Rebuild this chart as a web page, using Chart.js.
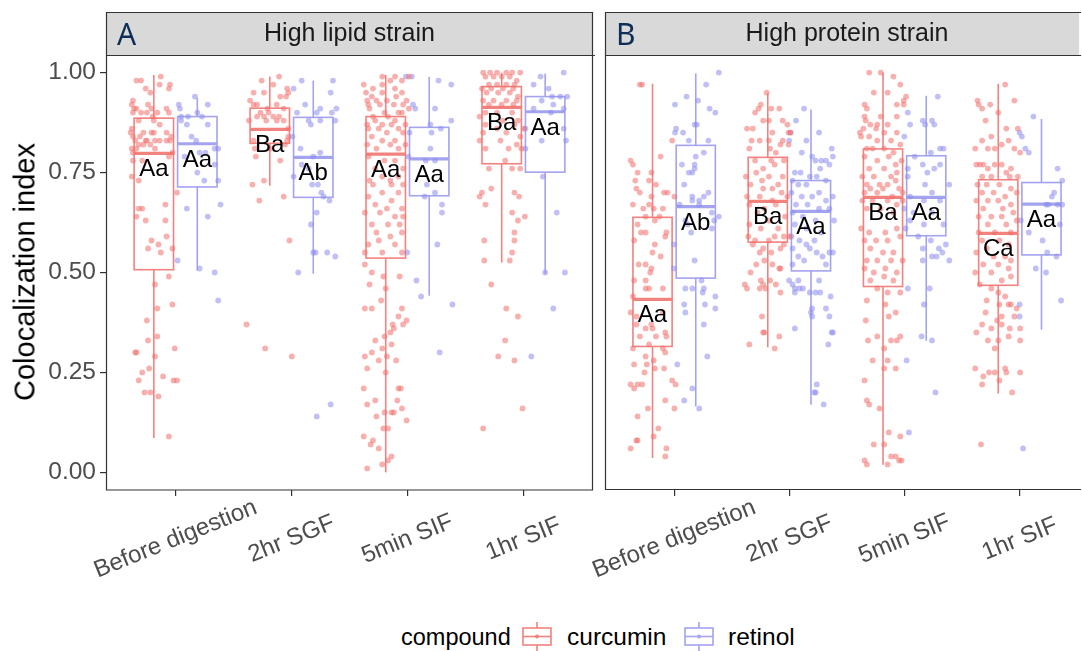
<!DOCTYPE html>
<html>
<head>
<meta charset="utf-8">
<script src="https://cdn.jsdelivr.net/npm/chart.js@4.4.1/dist/chart.umd.min.js"></script>
<style>
  body { margin:0; background:#fff; width:1082px; height:651px; overflow:hidden; position:relative; font-family:"Liberation Sans", Arial, sans-serif; }
  #wrapA { position:absolute; left:0; top:0; width:600px; height:600px; }
  #wrapB { position:absolute; left:520px; top:0; width:562px; height:600px; }
  #ytitle { position:absolute; left:25px; top:272px; transform:translate(-50%,-50%) rotate(-90deg); font-size:29px; white-space:nowrap; color:#000; }
  .leg { position:absolute; top:622px; height:30px; line-height:30px; font-size:24.5px; color:#000; white-space:nowrap; }
  .leg svg { display:block; }
</style>
</head>
<body>
<div id="wrapA"><canvas id="chartA" width="600" height="600"></canvas></div>
<div id="wrapB"><canvas id="chartB" width="562" height="600"></canvas></div>
<div id="ytitle">Colocalization index</div>

<div class="leg" style="left:401px; font-size:23.5px">compound</div>
<div class="leg" style="left:522px"><svg width="30" height="30" viewBox="0 0 30 30">
  <line x1="15" y1="0" x2="15" y2="6" stroke="#F2827E" stroke-width="1.6"/>
  <rect x="1" y="6" width="28" height="17" fill="#fff" stroke="#F2827E" stroke-width="1.6"/>
  <line x1="1" y1="14.5" x2="29" y2="14.5" stroke="#F2827E" stroke-width="1.6"/>
  <circle cx="15" cy="14.5" r="2" fill="#F2827E"/>
  <line x1="15" y1="23" x2="15" y2="30" stroke="#F2827E" stroke-width="1.6"/>
</svg></div>
<div class="leg" style="left:567px">curcumin</div>
<div class="leg" style="left:684px"><svg width="30" height="30" viewBox="0 0 30 30">
  <line x1="15" y1="0" x2="15" y2="6" stroke="#A3A3F0" stroke-width="1.6"/>
  <rect x="1" y="6" width="28" height="17" fill="#fff" stroke="#A3A3F0" stroke-width="1.6"/>
  <line x1="1" y1="14.5" x2="29" y2="14.5" stroke="#A3A3F0" stroke-width="1.6"/>
  <circle cx="15" cy="14.5" r="2" fill="#A3A3F0"/>
  <line x1="15" y1="23" x2="15" y2="30" stroke="#A3A3F0" stroke-width="1.6"/>
</svg></div>
<div class="leg" style="left:728px">retinol</div>

<script>
// categories and ticks
var categories = ["Before digestion", "2hr SGF", "5min SIF", "1hr SIF"];
var compounds = ["curcumin", "retinol"];
var yTicks = [0, 0.25, 0.5, 0.75, 1];
var yTickLabels = ["0.00", "0.25", "0.50", "0.75", "1.00"];

// box stats per category: [lower whisker, Q1, median, Q3, upper whisker]
var lipidCurcuminBox = [[0.086,0.507,0.798,0.886,0.994],[0.717,0.823,0.858,0.911,0.990],[0.000,0.536,0.796,0.890,0.994],[0.525,0.772,0.913,0.965,1.000]];
var lipidRetinolBox = [[0.505,0.714,0.822,0.890,0.936],[0.497,0.688,0.788,0.888,0.980],[0.442,0.692,0.784,0.863,0.989],[0.497,0.751,0.902,0.940,0.998]];
var proteinCurcuminBox = [[0.036,0.315,0.433,0.638,0.972],[0.313,0.576,0.678,0.788,0.948],[0.019,0.465,0.688,0.809,1.000],[0.197,0.468,0.598,0.732,0.972]];
var proteinRetinolBox = [[0.165,0.486,0.665,0.818,0.998],[0.169,0.504,0.653,0.730,0.908],[0.329,0.592,0.688,0.792,0.942],[0.357,0.544,0.671,0.725,0.884]];

// significance letters
var lipidCurcuminLetters = ["Aa", "Ba", "Aa", "Ba"];
var lipidRetinolLetters = ["Aa", "Ab", "Aa", "Aa"];
var proteinCurcuminLetters = ["Aa", "Ba", "Ba", "Ca"];
var proteinRetinolLetters = ["Ab", "Aa", "Aa", "Aa"];

// jittered cells: [jitter, colocalization index], one list per category
var lipidCurcuminPts = [
 [[0.06,0.99],[-0.15,0.98],[-0.11,0.98],[0.05,0.97],[0.14,0.97],[0.13,0.96],[-0.07,0.96],[-0.03,0.95],[-0.18,0.93],[-0.19,0.92],[-0.05,0.92],[-0.15,0.91],[-0.02,0.91],[-0.17,0.91],[-0.18,0.90],[-0.06,0.90],[-0.11,0.90],[0.03,0.90],[0.11,0.91],[0.13,0.90],[-0.01,0.89],[0.00,0.88],[-0.13,0.88],[0.05,0.87],[-0.19,0.86],[-0.09,0.85],[-0.02,0.85],[0.00,0.85],[0.11,0.85],[-0.20,0.85],[-0.18,0.84],[-0.12,0.84],[0.15,0.84],[-0.07,0.83],[0.14,0.83],[0.05,0.83],[-0.16,0.83],[-0.06,0.83],[0.01,0.83],[0.11,0.83],[-0.13,0.82],[-0.09,0.82],[-0.03,0.82],[-0.19,0.81],[-0.15,0.81],[0.01,0.81],[-0.18,0.80],[0.16,0.80],[0.13,0.79],[-0.18,0.78],[-0.10,0.78],[-0.19,0.74],[-0.13,0.73],[0.20,0.70],[0.10,0.67],[-0.13,0.66],[-0.10,0.66],[-0.15,0.64],[-0.07,0.63],[0.10,0.63],[-0.02,0.58],[0.11,0.59],[0.04,0.57],[-0.05,0.56],[0.06,0.55],[0.16,0.56],[0.13,0.49],[0.01,0.47],[0.16,0.42],[0.03,0.41],[-0.06,0.38],[-0.05,0.33],[0.03,0.34],[-0.15,0.30],[-0.16,0.30],[0.18,0.31],[0.01,0.29],[-0.04,0.26],[-0.10,0.25],[-0.13,0.23],[0.08,0.24],[0.17,0.23],[0.20,0.23],[-0.08,0.20],[-0.03,0.20],[0.04,0.19],[0.13,0.09]],
 [[0.08,0.99],[-0.07,0.98],[0.03,0.97],[0.15,0.96],[0.16,0.95],[-0.14,0.95],[-0.05,0.95],[0.09,0.94],[0.14,0.94],[-0.17,0.93],[-0.14,0.92],[-0.11,0.92],[0.06,0.92],[-0.02,0.91],[0.12,0.91],[-0.18,0.88],[-0.08,0.90],[-0.05,0.89],[-0.01,0.90],[0.03,0.89],[0.08,0.89],[-0.11,0.89],[-0.03,0.88],[0.06,0.88],[0.12,0.88],[0.16,0.86],[0.16,0.84],[0.15,0.83],[-0.14,0.83],[0.13,0.82],[-0.13,0.81],[0.00,0.81],[-0.12,0.79],[0.09,0.78],[-0.05,0.73],[-0.15,0.72],[-0.09,0.68],[0.12,0.69],[0.17,0.58],[-0.20,0.37],[-0.04,0.31],[0.19,0.29]],
 [[-0.03,0.99],[-0.19,0.97],[-0.03,0.97],[0.08,0.99],[0.14,0.98],[0.20,0.99],[0.04,0.98],[-0.17,0.95],[-0.11,0.96],[0.08,0.96],[0.14,0.95],[-0.03,0.95],[-0.12,0.94],[-0.16,0.93],[-0.08,0.93],[0.01,0.93],[0.09,0.94],[0.18,0.93],[-0.15,0.92],[-0.05,0.92],[0.07,0.92],[0.15,0.92],[0.20,0.91],[-0.14,0.91],[-0.01,0.90],[0.11,0.90],[-0.11,0.89],[0.02,0.89],[0.14,0.90],[-0.09,0.88],[0.08,0.88],[-0.16,0.87],[-0.03,0.87],[0.05,0.87],[0.17,0.87],[-0.15,0.86],[-0.06,0.86],[0.11,0.86],[0.01,0.85],[-0.12,0.84],[0.15,0.85],[-0.03,0.83],[0.08,0.83],[-0.16,0.82],[0.04,0.82],[0.17,0.82],[-0.08,0.81],[0.11,0.81],[-0.15,0.79],[-0.01,0.78],[0.08,0.78],[-0.09,0.76],[0.15,0.76],[-0.14,0.73],[-0.03,0.74],[0.04,0.73],[0.11,0.74],[-0.11,0.72],[0.05,0.72],[0.15,0.72],[-0.03,0.70],[-0.15,0.69],[0.11,0.70],[0.05,0.68],[-0.09,0.67],[0.01,0.66],[0.14,0.66],[-0.18,0.65],[-0.05,0.65],[0.08,0.64],[0.15,0.64],[-0.12,0.62],[0.02,0.62],[0.12,0.62],[-0.08,0.60],[0.04,0.59],[0.14,0.60],[-0.06,0.58],[-0.15,0.57],[0.08,0.57],[-0.18,0.55],[-0.03,0.55],[0.14,0.55],[-0.18,0.52],[-0.12,0.50],[-0.02,0.49],[0.12,0.49],[-0.14,0.47],[0.00,0.46],[-0.04,0.43],[-0.18,0.41],[-0.12,0.41],[0.14,0.41],[0.11,0.39],[0.06,0.37],[0.07,0.36],[0.15,0.37],[0.18,0.38],[0.04,0.35],[-0.01,0.34],[-0.09,0.33],[0.05,0.32],[-0.03,0.31],[-0.12,0.30],[-0.18,0.29],[-0.06,0.28],[0.01,0.29],[0.09,0.28],[-0.16,0.26],[0.00,0.25],[-0.19,0.21],[0.11,0.21],[0.13,0.21],[-0.09,0.18],[-0.16,0.17],[0.10,0.18],[-0.01,0.15],[0.05,0.15],[0.07,0.15],[0.14,0.16],[-0.08,0.14],[0.18,0.13],[0.02,0.11],[-0.02,0.11],[-0.19,0.09],[-0.11,0.08],[-0.13,0.07],[-0.06,0.06],[0.05,0.04],[0.02,0.03],[-0.03,0.02],[-0.16,0.01]],
 [[-0.16,1.00],[-0.10,1.00],[-0.04,1.00],[0.04,1.00],[0.09,1.00],[0.16,1.00],[-0.14,0.99],[-0.07,0.99],[0.00,0.99],[0.07,0.99],[0.13,0.98],[-0.11,0.97],[-0.04,0.97],[0.04,0.97],[0.11,0.97],[-0.17,0.96],[-0.09,0.96],[0.01,0.96],[0.10,0.96],[-0.13,0.95],[-0.03,0.95],[0.07,0.95],[0.14,0.94],[-0.16,0.93],[-0.07,0.93],[0.04,0.93],[0.13,0.93],[-0.11,0.92],[0.00,0.92],[0.10,0.92],[-0.14,0.90],[-0.04,0.90],[0.09,0.90],[-0.19,0.89],[0.01,0.88],[0.14,0.88],[0.19,0.86],[-0.14,0.87],[-0.04,0.86],[0.11,0.87],[-0.16,0.85],[0.04,0.85],[0.16,0.84],[-0.19,0.83],[-0.01,0.83],[0.13,0.82],[-0.14,0.81],[0.06,0.81],[0.17,0.81],[0.03,0.78],[-0.11,0.76],[0.09,0.76],[0.16,0.76],[-0.09,0.71],[-0.17,0.70],[-0.19,0.69],[-0.14,0.67],[0.11,0.70],[0.15,0.69],[0.09,0.65],[0.20,0.64],[0.14,0.63],[0.11,0.60],[-0.15,0.58],[0.11,0.58],[0.09,0.55],[-0.15,0.53],[0.07,0.53],[-0.09,0.47],[0.04,0.41],[0.14,0.39],[0.03,0.33],[-0.03,0.29],[0.11,0.28],[0.18,0.16],[-0.16,0.11]]
];
var lipidRetinolPts = [
 [[-0.02,0.94],[-0.16,0.92],[-0.15,0.91],[0.09,0.92],[0.00,0.90],[-0.14,0.89],[-0.08,0.89],[0.04,0.89],[-0.14,0.88],[-0.09,0.87],[0.09,0.87],[-0.05,0.84],[-0.01,0.83],[0.02,0.80],[0.15,0.81],[0.18,0.81],[-0.11,0.79],[0.07,0.80],[0.15,0.77],[0.00,0.75],[0.18,0.73],[0.06,0.73],[-0.09,0.66],[0.09,0.64],[0.20,0.67],[-0.17,0.53],[0.02,0.51],[0.15,0.50],[0.18,0.43]],
 [[-0.10,0.98],[0.17,0.98],[-0.17,0.96],[0.15,0.95],[-0.07,0.92],[0.06,0.91],[-0.14,0.90],[0.03,0.90],[0.16,0.90],[0.20,0.91],[-0.04,0.88],[-0.02,0.87],[0.06,0.88],[0.19,0.88],[-0.18,0.84],[-0.11,0.81],[0.00,0.79],[0.06,0.80],[-0.10,0.77],[-0.04,0.76],[-0.17,0.74],[-0.01,0.72],[0.04,0.72],[0.07,0.70],[0.09,0.69],[0.14,0.68],[0.03,0.65],[-0.02,0.62],[0.00,0.55],[0.02,0.55],[0.12,0.55],[0.19,0.54],[-0.13,0.50],[0.03,0.14],[0.15,0.17]],
 [[-0.20,0.99],[-0.15,0.99],[0.08,0.98],[0.19,0.97],[-0.14,0.92],[-0.12,0.91],[0.05,0.91],[0.01,0.87],[0.19,0.88],[-0.17,0.85],[0.02,0.85],[0.10,0.86],[0.01,0.81],[-0.18,0.79],[-0.03,0.78],[0.05,0.78],[-0.02,0.72],[-0.04,0.69],[0.05,0.70],[0.11,0.67],[0.11,0.65],[0.07,0.57],[-0.19,0.55],[-0.11,0.48],[-0.07,0.44],[0.20,0.42],[0.09,0.30]],
 [[-0.04,0.99],[0.16,1.00],[-0.10,0.97],[0.03,0.96],[0.06,0.94],[0.13,0.94],[0.19,0.94],[-0.03,0.93],[0.07,0.92],[-0.10,0.91],[0.16,0.91],[0.05,0.90],[-0.17,0.86],[0.16,0.86],[0.18,0.83],[-0.17,0.81],[-0.03,0.83],[-0.02,0.74],[0.10,0.65],[0.00,0.50],[0.17,0.50],[0.07,0.41],[-0.12,0.29]]
];
var proteinCurcuminPts = [
 [[-0.09,0.97],[-0.11,0.97],[0.07,0.79],[-0.19,0.78],[-0.17,0.77],[-0.13,0.75],[-0.03,0.73],[-0.01,0.75],[0.17,0.83],[-0.15,0.73],[0.03,0.72],[-0.14,0.71],[-0.11,0.70],[0.10,0.70],[0.13,0.70],[-0.01,0.69],[0.19,0.69],[-0.17,0.67],[-0.08,0.66],[-0.03,0.67],[0.01,0.66],[0.09,0.66],[-0.06,0.64],[0.06,0.64],[-0.13,0.62],[0.02,0.63],[0.12,0.60],[-0.10,0.60],[-0.06,0.60],[0.11,0.59],[-0.16,0.58],[0.02,0.57],[0.00,0.55],[0.07,0.54],[-0.12,0.52],[-0.06,0.52],[-0.01,0.51],[-0.02,0.50],[-0.16,0.48],[-0.06,0.48],[-0.06,0.46],[-0.03,0.46],[0.09,0.46],[-0.17,0.44],[-0.19,0.40],[-0.14,0.39],[0.09,0.40],[-0.14,0.37],[-0.01,0.37],[-0.06,0.36],[0.00,0.36],[0.11,0.35],[-0.11,0.34],[0.03,0.34],[0.12,0.34],[-0.03,0.32],[-0.17,0.31],[0.09,0.31],[0.11,0.30],[-0.06,0.29],[0.01,0.28],[-0.16,0.27],[-0.05,0.27],[0.10,0.26],[-0.07,0.25],[0.02,0.26],[-0.19,0.22],[-0.13,0.22],[0.17,0.23],[-0.09,0.22],[-0.16,0.21],[0.20,0.22],[0.11,0.18],[-0.04,0.16],[-0.13,0.14],[0.19,0.16],[0.05,0.11],[0.01,0.09],[-0.13,0.08],[-0.14,0.08],[-0.19,0.06],[0.12,0.06],[0.11,0.04]],
 [[-0.01,0.95],[-0.08,0.91],[-0.06,0.92],[0.03,0.91],[0.10,0.91],[-0.11,0.90],[0.13,0.88],[0.17,0.87],[-0.04,0.88],[0.01,0.88],[-0.18,0.86],[-0.13,0.86],[0.04,0.85],[0.20,0.85],[0.18,0.85],[-0.14,0.83],[-0.07,0.83],[0.01,0.83],[0.13,0.83],[0.11,0.82],[-0.16,0.81],[0.02,0.81],[0.18,0.82],[0.07,0.80],[-0.11,0.78],[0.03,0.78],[0.14,0.78],[-0.04,0.76],[0.06,0.77],[-0.10,0.75],[0.13,0.74],[-0.19,0.74],[0.01,0.74],[-0.05,0.73],[-0.15,0.72],[0.09,0.72],[-0.04,0.71],[0.04,0.71],[0.12,0.70],[-0.18,0.69],[-0.07,0.69],[0.04,0.68],[0.17,0.69],[-0.16,0.67],[0.07,0.67],[-0.03,0.66],[-0.09,0.65],[0.15,0.64],[0.01,0.63],[-0.16,0.62],[0.09,0.61],[-0.06,0.61],[0.06,0.59],[0.14,0.59],[-0.17,0.59],[0.19,0.59],[-0.11,0.58],[0.01,0.58],[-0.13,0.57],[-0.04,0.56],[0.14,0.57],[-0.07,0.55],[0.03,0.55],[0.11,0.56],[-0.10,0.52],[-0.03,0.53],[0.04,0.52],[0.10,0.51],[0.11,0.51],[-0.15,0.50],[-0.06,0.48],[0.02,0.48],[-0.04,0.47],[-0.20,0.47],[-0.18,0.46],[-0.07,0.46],[-0.02,0.46],[0.07,0.47],[0.11,0.45],[-0.05,0.39],[-0.04,0.35],[-0.03,0.35],[0.10,0.34],[-0.16,0.32],[0.06,0.31]],
 [[-0.12,1.00],[-0.02,1.00],[0.09,0.99],[0.15,0.97],[-0.08,0.95],[0.04,0.95],[0.20,0.94],[0.18,0.93],[-0.16,0.92],[-0.14,0.91],[0.12,0.92],[0.18,0.92],[-0.16,0.89],[-0.15,0.88],[-0.02,0.89],[0.12,0.89],[-0.05,0.87],[-0.11,0.87],[0.04,0.87],[-0.17,0.86],[-0.06,0.86],[-0.20,0.85],[-0.19,0.84],[-0.12,0.84],[0.01,0.85],[0.12,0.85],[-0.05,0.83],[0.07,0.83],[0.15,0.82],[-0.14,0.81],[-0.09,0.81],[0.01,0.81],[0.09,0.80],[-0.16,0.79],[-0.05,0.78],[0.05,0.79],[0.16,0.78],[0.11,0.77],[-0.12,0.76],[0.01,0.76],[0.12,0.75],[-0.18,0.74],[-0.08,0.74],[0.07,0.74],[-0.14,0.72],[-0.03,0.72],[0.04,0.72],[0.11,0.73],[-0.11,0.71],[0.00,0.71],[0.14,0.71],[-0.16,0.70],[-0.05,0.70],[0.08,0.69],[0.17,0.70],[-0.18,0.68],[-0.09,0.68],[0.04,0.68],[0.12,0.67],[0.17,0.68],[-0.14,0.66],[-0.02,0.66],[0.09,0.65],[-0.19,0.61],[-0.12,0.60],[0.02,0.60],[0.12,0.61],[-0.16,0.58],[-0.06,0.58],[0.04,0.58],[0.15,0.59],[-0.11,0.56],[0.00,0.55],[0.09,0.55],[-0.14,0.53],[-0.05,0.53],[0.07,0.53],[0.17,0.53],[-0.16,0.51],[0.02,0.51],[-0.08,0.50],[0.12,0.50],[0.01,0.49],[-0.11,0.48],[0.09,0.48],[-0.05,0.46],[0.04,0.45],[0.15,0.45],[-0.14,0.43],[0.02,0.42],[0.11,0.40],[0.05,0.39],[-0.15,0.38],[-0.05,0.34],[-0.13,0.33],[0.12,0.33],[0.15,0.34],[0.07,0.33],[0.01,0.31],[-0.09,0.28],[0.04,0.28],[0.01,0.26],[0.11,0.26],[-0.16,0.23],[-0.14,0.18],[-0.12,0.17],[-0.03,0.16],[0.05,0.10],[0.15,0.09],[-0.08,0.07],[0.01,0.07],[0.07,0.04],[0.11,0.04],[0.16,0.03],[0.14,0.03],[-0.16,0.03],[-0.14,0.02],[0.04,0.02]],
 [[0.06,0.97],[-0.18,0.93],[-0.17,0.92],[-0.14,0.91],[-0.07,0.92],[0.14,0.93],[0.00,0.90],[-0.11,0.88],[-0.06,0.84],[0.07,0.86],[-0.14,0.83],[0.17,0.86],[0.09,0.83],[-0.09,0.81],[-0.03,0.81],[0.03,0.82],[0.14,0.81],[-0.20,0.81],[-0.19,0.77],[-0.16,0.77],[-0.13,0.77],[-0.09,0.76],[-0.03,0.77],[0.03,0.77],[0.11,0.76],[0.19,0.80],[0.07,0.75],[-0.14,0.74],[-0.06,0.74],[0.10,0.74],[0.17,0.74],[-0.18,0.72],[-0.10,0.72],[0.01,0.72],[0.11,0.71],[-0.14,0.70],[-0.04,0.70],[0.06,0.69],[0.16,0.70],[-0.19,0.68],[-0.09,0.68],[0.00,0.68],[0.11,0.67],[-0.13,0.66],[0.04,0.66],[0.13,0.65],[-0.17,0.64],[-0.06,0.64],[0.03,0.64],[0.16,0.63],[-0.09,0.62],[0.07,0.62],[-0.17,0.60],[-0.03,0.60],[0.11,0.60],[-0.14,0.58],[0.01,0.58],[0.09,0.57],[-0.10,0.56],[-0.19,0.55],[-0.04,0.54],[0.06,0.54],[0.11,0.53],[-0.13,0.52],[0.00,0.52],[0.09,0.51],[-0.20,0.50],[-0.06,0.50],[0.11,0.49],[0.03,0.48],[-0.16,0.47],[-0.06,0.46],[0.00,0.45],[0.06,0.44],[-0.10,0.43],[0.11,0.42],[0.01,0.42],[0.09,0.42],[0.16,0.41],[-0.11,0.40],[0.03,0.39],[0.14,0.39],[-0.01,0.38],[-0.14,0.37],[-0.06,0.36],[0.03,0.37],[0.10,0.36],[0.19,0.36],[-0.19,0.35],[-0.09,0.33],[0.00,0.33],[0.09,0.34],[0.19,0.33],[-0.03,0.31],[-0.20,0.26],[-0.13,0.24],[-0.08,0.25],[-0.03,0.25],[0.06,0.26],[0.07,0.25],[0.19,0.25],[-0.14,0.22],[0.01,0.23],[0.12,0.20],[-0.15,0.07]]
];
var proteinRetinolPts = [
 [[0.20,1.00],[0.09,0.97],[-0.08,0.94],[0.02,0.93],[-0.18,0.92],[0.12,0.91],[0.17,0.90],[-0.17,0.86],[-0.11,0.85],[-0.01,0.87],[0.01,0.87],[-0.18,0.85],[-0.06,0.83],[0.11,0.83],[0.00,0.79],[0.07,0.80],[-0.12,0.77],[-0.01,0.77],[-0.06,0.75],[-0.03,0.75],[-0.01,0.76],[-0.10,0.72],[-0.03,0.69],[0.03,0.68],[0.11,0.70],[0.07,0.69],[-0.03,0.68],[0.03,0.67],[-0.14,0.67],[0.14,0.65],[-0.09,0.63],[0.16,0.63],[0.20,0.64],[-0.07,0.62],[0.14,0.61],[-0.04,0.60],[-0.19,0.57],[-0.01,0.53],[-0.19,0.51],[-0.09,0.46],[-0.03,0.46],[0.05,0.48],[0.07,0.46],[0.06,0.45],[-0.10,0.42],[0.08,0.42],[0.17,0.44],[-0.09,0.40],[0.17,0.41],[0.07,0.37],[-0.16,0.27],[0.10,0.29],[-0.03,0.21],[-0.10,0.18],[0.03,0.16]],
 [[-0.06,0.91],[-0.13,0.88],[-0.04,0.83],[-0.08,0.80],[0.07,0.85],[0.18,0.81],[-0.18,0.85],[-0.19,0.83],[0.01,0.79],[0.04,0.78],[0.09,0.78],[0.13,0.78],[0.19,0.79],[0.16,0.77],[0.08,0.76],[-0.14,0.75],[-0.09,0.75],[-0.01,0.74],[-0.16,0.73],[0.05,0.74],[0.13,0.73],[-0.11,0.72],[-0.04,0.72],[0.07,0.70],[0.19,0.69],[-0.17,0.70],[-0.08,0.69],[0.01,0.69],[0.13,0.68],[-0.13,0.67],[-0.03,0.67],[0.07,0.66],[0.16,0.66],[-0.16,0.65],[-0.07,0.64],[0.04,0.63],[0.20,0.63],[-0.14,0.62],[-0.04,0.61],[0.09,0.60],[-0.17,0.59],[-0.10,0.58],[0.03,0.58],[-0.04,0.57],[-0.16,0.56],[-0.01,0.56],[0.05,0.55],[0.16,0.55],[-0.11,0.54],[0.10,0.54],[0.19,0.55],[-0.06,0.53],[-0.16,0.52],[0.13,0.52],[-0.19,0.48],[-0.11,0.48],[-0.16,0.47],[-0.10,0.46],[-0.14,0.46],[-0.07,0.46],[-0.01,0.45],[0.07,0.48],[-0.14,0.45],[0.04,0.45],[0.08,0.45],[0.17,0.44],[0.01,0.41],[0.01,0.39],[0.00,0.40],[0.13,0.41],[0.16,0.39],[-0.14,0.36],[0.19,0.35],[0.18,0.35],[0.15,0.32],[0.05,0.22],[0.04,0.20],[0.03,0.20],[0.11,0.17]],
 [[0.10,0.94],[-0.16,0.90],[-0.14,0.87],[-0.03,0.88],[-0.01,0.87],[0.05,0.88],[0.07,0.87],[-0.19,0.84],[0.15,0.81],[0.12,0.81],[-0.10,0.79],[0.04,0.80],[-0.03,0.77],[-0.16,0.76],[0.07,0.76],[0.12,0.77],[0.01,0.75],[-0.16,0.74],[-0.01,0.72],[0.20,0.72],[0.05,0.70],[-0.14,0.69],[-0.02,0.68],[0.12,0.68],[-0.19,0.66],[-0.11,0.65],[0.05,0.65],[-0.14,0.63],[-0.02,0.62],[0.15,0.62],[-0.18,0.61],[-0.07,0.59],[0.04,0.58],[0.17,0.57],[-0.03,0.56],[0.11,0.56],[0.09,0.54],[0.05,0.54],[0.14,0.55],[0.20,0.53],[-0.03,0.53],[-0.16,0.46],[0.03,0.46],[-0.02,0.42],[-0.04,0.34],[0.05,0.33],[-0.17,0.28],[0.08,0.20],[-0.15,0.10]],
 [[-0.07,0.89],[-0.19,0.85],[-0.17,0.84],[-0.14,0.81],[-0.11,0.80],[0.14,0.76],[0.18,0.73],[0.11,0.70],[0.09,0.69],[0.06,0.67],[0.14,0.67],[0.18,0.67],[0.04,0.67],[-0.18,0.63],[-0.11,0.60],[0.16,0.62],[0.01,0.58],[0.05,0.55],[0.13,0.54],[-0.05,0.51],[0.04,0.50],[0.17,0.43],[-0.19,0.42],[-0.19,0.39],[-0.16,0.06]]
];

var lineColors = ["#F2827E", "#A3A3F0"];
var pointColors = ["rgba(242,112,108,0.55)", "rgba(140,140,238,0.55)"];
var dodge = [-0.1875, 0.1875];
var boxWidth = 0.34;
var FONT = '"Liberation Sans", Arial, sans-serif';

function line(ctx, x1, y1, x2, y2) {
  ctx.beginPath(); ctx.moveTo(x1, y1); ctx.lineTo(x2, y2); ctx.stroke();
}

function facetPlugin(panel) {
  return {
    id: 'facet' + panel.letter,
    beforeDatasetsDraw: function(chart) {
      var ctx = chart.ctx, xs = chart.scales.x, ys = chart.scales.y;
      ctx.save();
      panel.boxes.forEach(function(boxes, c) {
        boxes.forEach(function(s, i) {
          var cx = i + 1 + dodge[c];
          var xl = xs.getPixelForValue(cx - boxWidth / 2), xr = xs.getPixelForValue(cx + boxWidth / 2);
          var xm = xs.getPixelForValue(cx);
          var p = s.map(function(v) { return ys.getPixelForValue(v); });
          ctx.strokeStyle = lineColors[c];
          ctx.lineWidth = 1.6;
          line(ctx, xm, p[4], xm, p[3]);
          line(ctx, xm, p[1], xm, p[0]);
          ctx.fillStyle = '#fff';
          ctx.fillRect(xl, p[3], xr - xl, p[1] - p[3]);
          ctx.strokeRect(xl, p[3], xr - xl, p[1] - p[3]);
          ctx.lineWidth = 3.2;
          line(ctx, xl, p[2], xr, p[2]);
        });
      });
      ctx.restore();
    },
    afterDatasetsDraw: function(chart) {
      var ctx = chart.ctx, xs = chart.scales.x, ys = chart.scales.y;
      ctx.save();
      ctx.font = '24px ' + FONT;
      ctx.fillStyle = '#000';
      ctx.textAlign = 'center';
      ctx.textBaseline = 'alphabetic';
      panel.letters.forEach(function(lets, c) {
        lets.forEach(function(t, i) {
          var x = xs.getPixelForValue(i + 1 + dodge[c]);
          var y = ys.getPixelForValue(panel.boxes[c][i][2]) + 23;
          ctx.fillText(t, x, y);
        });
      });
      ctx.restore();
    },
    afterDraw: function(chart) {
      var ctx = chart.ctx, xs = chart.scales.x, ca = chart.chartArea;
      ctx.save();
      // strip
      ctx.fillStyle = '#D9D9D9';
      ctx.fillRect(ca.left, 12, ca.right - ca.left, ca.top - 12);
      ctx.strokeStyle = '#333333';
      ctx.lineWidth = 1.2;
      ctx.beginPath();
      if (panel.closed) {
        ctx.rect(ca.left + 0.5, 12.5, ca.right - ca.left - 1, ca.bottom - 12.5);
      } else {
        ctx.moveTo(ca.right + 2, 12.5); ctx.lineTo(ca.left + 0.5, 12.5);
        ctx.lineTo(ca.left + 0.5, ca.bottom - 0.5); ctx.lineTo(ca.right + 2, ca.bottom - 0.5);
      }
      ctx.moveTo(ca.left, ca.top + 0.5); ctx.lineTo(ca.right + 2, ca.top + 0.5);
      ctx.stroke();
      ctx.fillStyle = '#1A1A1A';
      ctx.font = '25px ' + FONT;
      ctx.textAlign = 'center';
      ctx.textBaseline = 'middle';
      ctx.fillText(panel.title, xs.getPixelForValue(2.5), (12 + ca.top) / 2 + 1);
      ctx.fillStyle = '#0D2E57';
      ctx.font = '30px "Noto Sans", sans-serif';
      ctx.textAlign = 'left';
      ctx.textBaseline = 'alphabetic';
      ctx.fillText(panel.letter, ca.left + 11, 45);
      // rotated category labels
      ctx.fillStyle = '#4D4D4D';
      ctx.font = '24px ' + FONT;
      ctx.textAlign = 'center';
      ctx.textBaseline = 'middle';
      categories.forEach(function(cat, i) {
        ctx.save();
        ctx.translate(xs.getPixelForValue(i + 1), 539);
        ctx.rotate(-22 * Math.PI / 180);
        ctx.fillText(cat, 0, 0);
        ctx.restore();
      });
      ctx.restore();
    }
  };
}

function makeChart(id, panel) {
  var datasets = panel.points.map(function(pts, c) {
    var data = [];
    pts.forEach(function(group, i) {
      group.forEach(function(p) { data.push({ x: i + 1 + dodge[c] + p[0], y: p[1] }); });
    });
    return {
      label: compounds[c],
      data: data,
      pointRadius: 2.9,
      pointBorderWidth: 0,
      pointBackgroundColor: pointColors[c],
      pointHoverRadius: 2.9
    };
  });
  return new Chart(document.getElementById(id), {
    type: 'scatter',
    data: { datasets: datasets },
    options: {
      responsive: false,
      animation: false,
      events: [],
      layout: { padding: panel.padding },
      plugins: { legend: { display: false }, tooltip: { enabled: false } },
      scales: {
        x: {
          type: 'linear', min: 0.4, max: panel.xMax,
          afterBuildTicks: function(s) { s.ticks = categories.map(function(c, i) { return { value: i + 1 }; }); },
          afterFit: function(s) { s.height = 110; },
          ticks: { display: false },
          grid: { display: true, drawOnChartArea: false, drawTicks: true, tickLength: 6, color: '#333333', lineWidth: 1.2 },
          border: { display: false }
        },
        y: {
          type: 'linear', min: -0.044, max: 1.044,
          display: panel.showY,
          afterBuildTicks: function(s) { s.ticks = yTicks.map(function(v) { return { value: v }; }); },
          afterFit: function(s) { if (panel.showY) s.width = 106; },
          ticks: {
            padding: 4, color: '#4D4D4D', font: { family: FONT, size: 24.5 },
            callback: function(v, i) { return yTickLabels[i]; }
          },
          grid: { display: true, drawOnChartArea: false, drawTicks: true, tickLength: 6, color: '#333333', lineWidth: 1.2 },
          border: { display: false }
        }
      }
    },
    plugins: [facetPlugin(panel)]
  });
}

makeChart('chartA', {
  letter: 'A', title: 'High lipid strain', closed: true, showY: true, xMax: 4.6,
  padding: { top: 55, right: 7, left: 0, bottom: 0 },
  boxes: [lipidCurcuminBox, lipidRetinolBox],
  letters: [lipidCurcuminLetters, lipidRetinolLetters],
  points: [lipidCurcuminPts, lipidRetinolPts]
});
makeChart('chartB', {
  letter: 'B', title: 'High protein strain', closed: false, showY: false, xMax: 4.514,
  padding: { top: 55, right: 0, left: 85, bottom: 0 },
  boxes: [proteinCurcuminBox, proteinRetinolBox],
  letters: [proteinCurcuminLetters, proteinRetinolLetters],
  points: [proteinCurcuminPts, proteinRetinolPts]
});
</script>
</body>
</html>
